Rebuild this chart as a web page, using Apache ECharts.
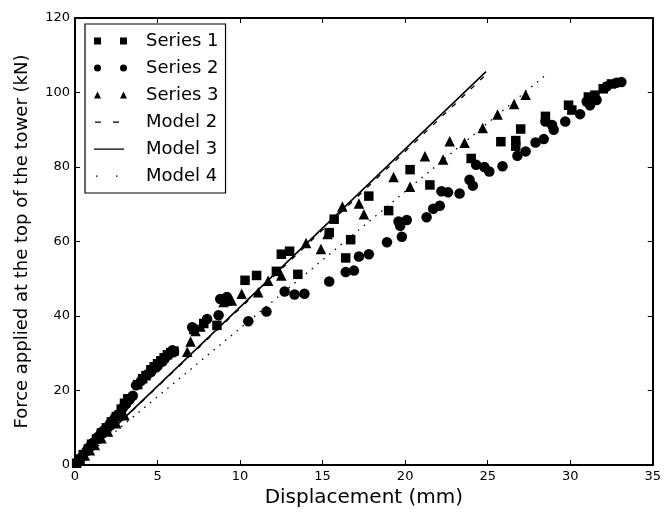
<!DOCTYPE html>
<html><head><meta charset="utf-8">
<script src="https://cdn.jsdelivr.net/npm/echarts@6/dist/echarts.min.js"></script>
<style>html,body{margin:0;padding:0;background:#fff}#c{width:664px;height:513px}</style>
</head><body><div id="c"></div>
<script>
// ---- data (displacement mm, force kN) ----
const series1 = [[0.1,0.5],[0.3,1.6],[0.5,2.8],[0.8,4.3],[1.0,5.6],[1.3,7.0],[1.6,8.6],[1.9,10.0],[2.2,11.6],[2.5,13.0],[2.8,15.0],[3.0,16.6],[3.2,17.8],[3.8,21.6],[4.1,23.2],[4.3,24.0],[4.6,25.6],[4.8,26.4],[5.0,27.2],[5.2,28.0],[5.4,28.8],[5.6,29.6],[5.8,30.2],[6.0,30.6],[7.2,36.4],[7.8,38.0],[8.6,37.5],[9.2,44.0],[10.3,49.6],[11.0,50.9],[12.2,52.0],[12.5,56.6],[13.0,57.4],[13.5,51.2],[15.4,62.4],[15.7,66.0],[16.4,55.6],[16.7,60.5],[17.8,72.2],[19.0,68.3],[20.3,79.3],[21.5,75.2],[24.0,82.3],[25.8,86.8],[26.7,87.1],[26.7,85.6],[27.0,90.2],[28.5,93.6],[29.9,96.6],[30.1,95.3],[31.1,98.8],[31.5,99.3],[32.0,101.0],[32.5,102.3]];
const series2 = [[0.2,1.0],[0.4,2.1],[0.7,3.8],[0.9,5.0],[1.1,6.0],[1.4,7.6],[1.6,8.8],[1.8,9.5],[2.1,11.0],[2.4,12.6],[2.6,13.6],[2.9,15.4],[3.1,16.4],[3.3,17.6],[3.5,18.6],[3.7,21.4],[4.0,22.6],[4.4,24.4],[4.6,25.0],[4.9,26.2],[5.0,26.6],[5.3,27.8],[5.5,29.0],[5.7,29.8],[5.9,30.8],[6.0,30.4],[7.1,37.0],[8.0,39.2],[8.8,44.6],[9.2,45.1],[8.7,40.2],[10.5,38.6],[11.6,41.2],[12.7,46.6],[13.3,45.8],[13.9,46.0],[15.4,49.3],[16.4,51.8],[16.9,52.2],[17.2,56.0],[17.8,56.6],[18.9,59.8],[19.6,65.4],[20.1,65.8],[19.7,64.2],[19.8,61.3],[21.3,66.5],[21.7,68.8],[22.1,69.6],[22.2,73.5],[22.6,73.2],[23.3,72.9],[23.9,76.6],[24.1,75.0],[24.3,80.6],[24.8,80.0],[25.1,78.8],[25.9,80.2],[26.8,83.0],[27.3,84.2],[27.9,86.6],[28.4,87.5],[28.5,92.2],[28.9,91.3],[29.0,90.0],[29.7,92.2],[30.6,94.2],[31.2,96.6],[31.0,97.6],[31.6,98.0],[32.2,101.6],[32.8,102.6],[33.1,102.8]];
const series3 = [[0.3,1.3],[0.6,2.6],[0.9,4.0],[1.2,5.4],[1.6,7.2],[2.0,9.0],[2.5,11.2],[3.0,13.4],[6.8,30.4],[7.0,33.2],[7.3,36.0],[7.6,37.2],[9.0,43.8],[9.5,44.2],[10.1,46.0],[11.1,46.4],[11.7,49.5],[12.5,50.9],[14.0,59.6],[14.9,58.0],[15.3,62.0],[16.2,69.4],[17.2,70.2],[17.5,67.3],[19.3,77.3],[20.3,74.7],[21.2,82.9],[22.3,82.0],[22.7,86.9],[23.6,86.5],[24.7,90.5],[25.6,94.1],[26.6,96.9],[27.3,99.4]];
const model2 = [[0,0],[24.9,104.8]];
const model3 = [[0,0],[24.9,105.6]];
const model4 = [[0,0],[28.6,105.0]];
const xRange = [0,35,5];
const yRange = [0,120,20];

const FONT = 'DejaVu Sans';
const chart = echarts.init(document.getElementById('c'), null, {renderer:'canvas'});
const corner = 'M0,0h0.01v0.01h-0.01z M33,7h-0.01v-0.01h0.01z ';
const icons = {
  'Series 1': 'path://M0,0h7v7h-7z M26,0h7v7h-7z',
  'Series 2': 'path://M0,3.5a3.5,3.5 0 1,0 7,0a3.5,3.5 0 1,0 -7,0z M26,3.5a3.5,3.5 0 1,0 7,0a3.5,3.5 0 1,0 -7,0z',
  'Series 3': 'path://M3.5,0L7,7H0z M29.5,0L33,7H26z',
  'Model 2': 'path://' + corner + 'M1,3h6v1.3h-6z M19,3h6v1.3h-6z',
  'Model 3': 'path://' + corner + 'M0,3h30v1.3h-30z',
  'Model 4': 'path://' + corner + 'M2,3h1.5v1.3h-1.5z M22,3h1.5v1.3h-1.5z'
};
const axisCommon = (pos, showLabel, rng) => ({
  type:'value', position:pos, min:rng[0], max:rng[1], interval:rng[2],
  axisLine:{show:true, onZero:false, lineStyle:{color:'#000', width:2}},
  axisTick:{show:true, inside:true, length:5, lineStyle:{color:'#000', width:1}},
  splitLine:{show:false},
  axisLabel:{show:showLabel, color:'#000', fontSize:13, fontFamily:FONT, margin:5}
});
const xMain = Object.assign(axisCommon('bottom', true, xRange), {
  name:'Displacement (mm)', nameLocation:'middle', nameGap:20,
  nameTextStyle:{color:'#000', fontSize:20, fontFamily:FONT}
});
const yMain = Object.assign(axisCommon('left', true, yRange), {
  name:'Force applied at the top of the tower (kN)', nameLocation:'middle', nameGap:44,
  nameTextStyle:{color:'#000', fontSize:18, fontFamily:FONT}
});
const scat = (name, data, sym, size) => ({
  name, type:'scatter', data, symbol:sym, symbolSize:size,
  itemStyle:{color:'#000', opacity:1}, xAxisIndex:0, yAxisIndex:0, z:3
});
const line = (name, data, type, w) => ({
  name, type:'line', data, showSymbol:false, symbol:'none',
  lineStyle:{color:'#000', width:w, type:type}, itemStyle:{color:'#000'},
  xAxisIndex:0, yAxisIndex:0, z:4
});
chart.setOption({
  animation:false,
  backgroundColor:'#fff',
  grid:{left:75, right:6, top:18, bottom:46, containLabel:false},
  xAxis:[xMain, axisCommon('top', false, xRange)],
  yAxis:[yMain, axisCommon('right', false, yRange)],
  legend:{
    orient:'vertical', left:85, top:24,
    padding:[8,7,8,9],
    borderColor:'#000', borderWidth:1.2, backgroundColor:'#fff',
    itemWidth:33, itemHeight:7, itemGap:9,
    textStyle:{color:'#000', fontSize:18, fontFamily:FONT, lineHeight:18, padding:[0,0,0,14]},
    itemStyle:{borderWidth:0},
    data:Object.keys(icons).map(n => ({name:n, icon:icons[n]}))
  },
  series:[
    scat('Series 1', series1, 'rect', 9.5),
    scat('Series 2', series2, 'circle', 10.5),
    scat('Series 3', series3, 'triangle', 10.5),
    line('Model 2', model2, [5,8], 1.3),
    line('Model 3', model3, 'solid', 1.6),
    line('Model 4', model4, [1.5,6], 1.3)
  ]
});
</script></body></html>
